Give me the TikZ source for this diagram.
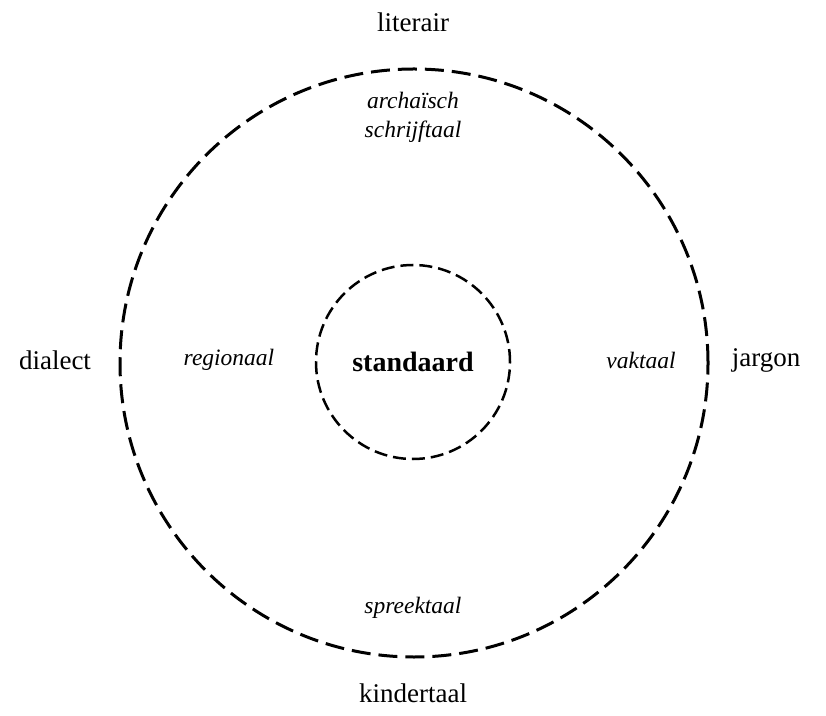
\documentclass[tikz,border=0pt]{standalone}
\usepackage{fontspec}
\setmainfont{Liberation Serif}
\begin{document}
\begin{tikzpicture}[x=1pt,y=1pt,
    outer/.style={draw, circle, line width=3pt, dash pattern=on 19pt off 8pt},
    inner/.style={draw, circle, line width=2.5pt, dash pattern=on 13pt off 6pt},
    label/.style={font=\fontsize{27}{32}\selectfont},
    zone/.style={font=\fontsize{23.5}{29}\selectfont\itshape, align=center}]
  \useasboundingbox (0,0) rectangle (826,715);
  \node[outer, minimum size=588pt] (ring) at (414,352) {};
  \node[inner, minimum size=194pt] (core) at (413,353) {};
  \node[font=\fontsize{28}{32}\selectfont\bfseries] (std) at (core.center) {standaard};
  \node[label] (lit) at (413,693) {literair};
  \node[label] (kind) at (413,22) {kindertaal};
  \node[label] (dia) at (55,355) {dialect};
  \node[label] (jar) at (766,355) {jargon};
  \node[zone] (arch) at (413,598) {archaïsch\\schrijftaal};
  \node[zone] (reg) at (229,355) {regionaal};
  \node[zone] (vak) at (641,355) {vaktaal};
  \node[zone] (spr) at (413,107) {spreektaal};
\end{tikzpicture}
\end{document}
